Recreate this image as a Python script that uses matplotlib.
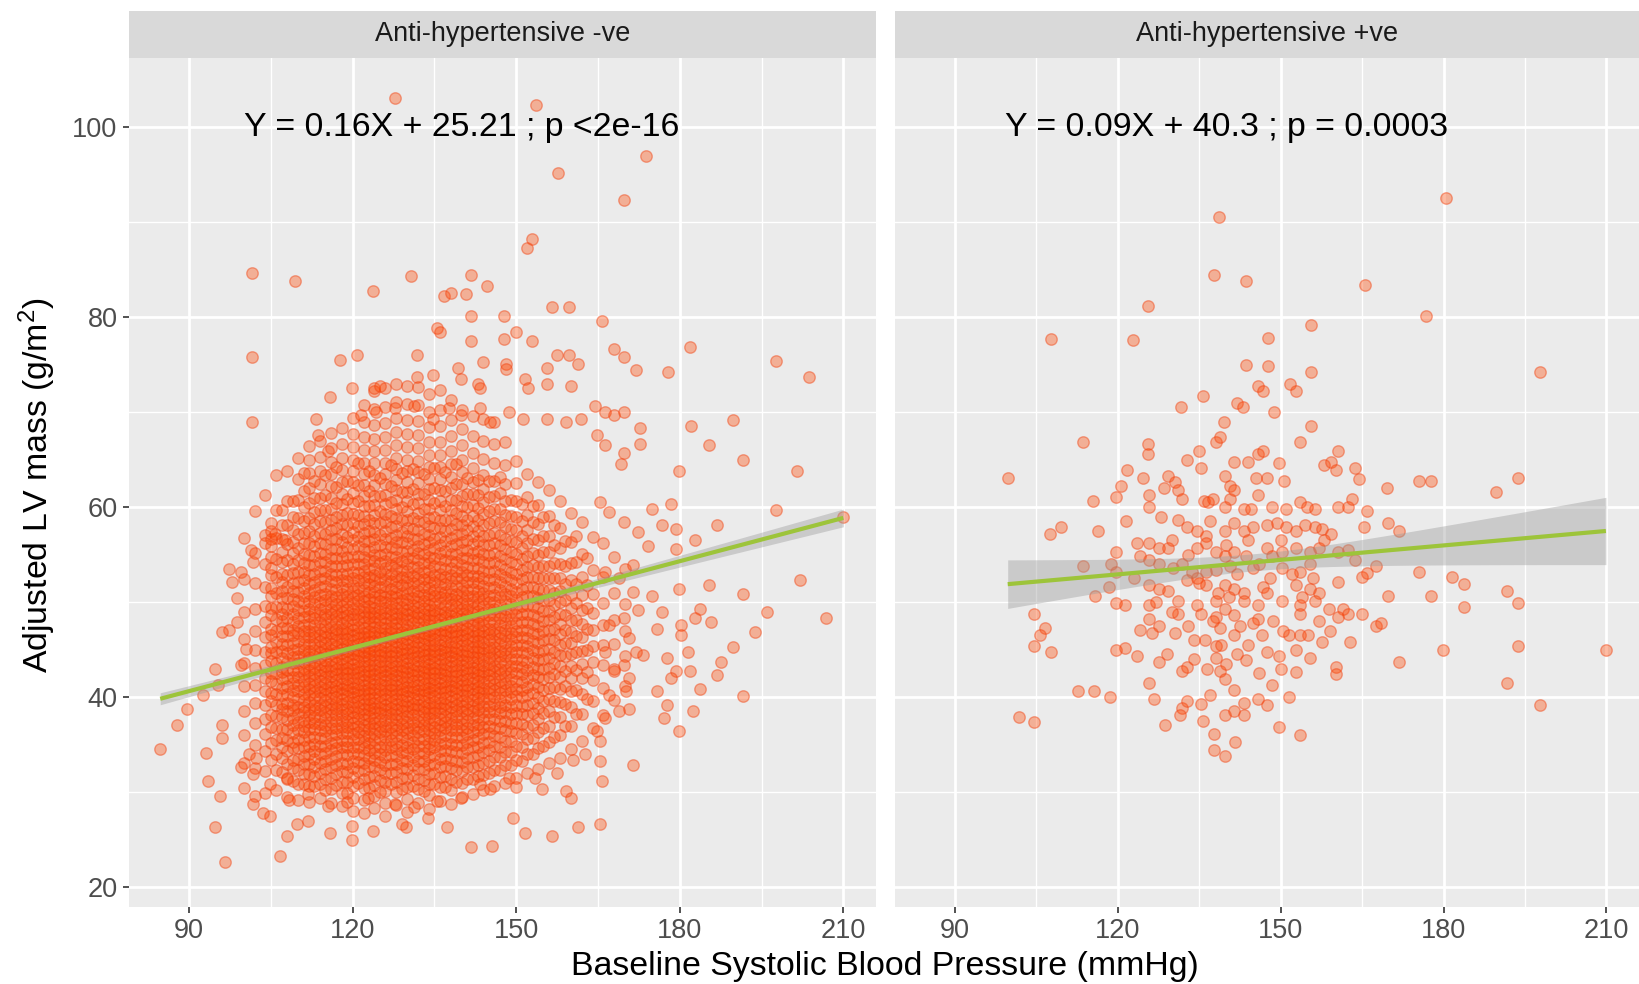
import matplotlib
matplotlib.use("Agg")
import matplotlib.pyplot as plt
import numpy as np

plt.rcParams['font.family'] = ['Liberation Sans', 'DejaVu Sans']
plt.rcParams['mathtext.fontset'] = 'custom'
plt.rcParams['mathtext.rm'] = 'Liberation Sans'
plt.rcParams['mathtext.it'] = 'Liberation Sans:italic'

# ---------------- data ----------------
panel_titles = ["Anti-hypertensive -ve", "Anti-hypertensive +ve"]
annotations = ["Y = 0.16X + 25.21 ; p <2e-16", "Y = 0.09X + 40.3 ; p = 0.0003"]
x_major = [90, 120, 150, 180, 210]
x_minor = [105, 135, 165, 195]
y_major = [20, 40, 60, 80, 100]
y_minor = [30, 50, 70, 90]

# left panel: dense columns (SBP value -> LV mass values)
left_dense_cols = {
    100: [30.4, 33.1, 36.0, 38.5, 41.2, 43.6, 46.1, 49.0, 52.4, 56.8],
    102: [29.6, 32.5, 35.0, 37.3, 39.4, 41.3, 43.1, 45.0, 47.0, 49.3, 52.0, 55.2, 59.6],
    104: [29.9, 32.2, 34.3, 36.1, 37.7, 39.2, 40.6, 42.0, 43.4, 44.8, 46.3, 47.9, 49.6, 51.6, 54.0, 57.1, 61.3],
    106: [30.2, 32.3, 34.0, 35.5, 36.8, 38.0, 39.2, 40.3, 41.4, 42.5, 43.6, 44.7, 45.8, 47.0, 48.2, 49.5, 51.0, 52.6, 54.5, 56.8, 59.7, 63.4],
    108: [29.5, 31.4, 33.0, 34.3, 35.5, 36.6, 37.6, 38.5, 39.4, 40.3, 41.2, 42.0, 42.9, 43.7, 44.6, 45.5, 46.4, 47.3, 48.3, 49.3, 50.4, 51.6, 52.9, 54.4, 56.1, 58.1, 60.6, 63.8],
    110: [29.2, 30.9, 32.3, 33.5, 34.6, 35.6, 36.5, 37.4, 38.2, 39.0, 39.8, 40.6, 41.3, 42.1, 42.8, 43.6, 44.3, 45.1, 45.9, 46.7, 47.5, 48.3, 49.2, 50.1, 51.1, 52.1, 53.2, 54.4, 55.7, 57.2, 58.9, 60.8, 63.0, 65.2],
    112: [29.0, 30.6, 31.9, 33.0, 34.0, 34.9, 35.8, 36.6, 37.4, 38.1, 38.8, 39.5, 40.2, 40.9, 41.5, 42.2, 42.9, 43.5, 44.2, 44.9, 45.6, 46.3, 47.0, 47.7, 48.5, 49.3, 50.1, 51.0, 51.9, 52.9, 53.9, 55.0, 56.2, 57.5, 58.9, 60.4, 62.0, 63.6, 65.0, 66.4],
    114: [29.4, 30.8, 32.0, 33.1, 34.0, 34.9, 35.7, 36.5, 37.2, 37.9, 38.6, 39.2, 39.9, 40.5, 41.1, 41.7, 42.3, 42.9, 43.5, 44.1, 44.7, 45.3, 45.9, 46.5, 47.2, 47.9, 48.6, 49.3, 50.0, 50.8, 51.6, 52.4, 53.3, 54.2, 55.2, 56.2, 57.3, 58.5, 59.7, 61.0, 62.4, 63.8, 65.3, 67.0],
    116: [28.8, 30.3, 31.5, 32.6, 33.5, 34.4, 35.2, 36.0, 36.7, 37.4, 38.1, 38.7, 39.3, 39.9, 40.5, 41.1, 41.6, 42.2, 42.8, 43.3, 43.9, 44.5, 45.0, 45.6, 46.2, 46.8, 47.4, 48.0, 48.7, 49.3, 50.0, 50.7, 51.4, 52.2, 53.0, 53.8, 54.7, 55.6, 56.6, 57.6, 58.7, 59.8, 61.0, 62.2, 63.5, 64.8, 66.2, 67.8],
    118: [28.5, 29.9, 31.1, 32.2, 33.1, 34.0, 34.8, 35.5, 36.2, 36.9, 37.5, 38.1, 38.7, 39.3, 39.8, 40.4, 40.9, 41.4, 42.0, 42.5, 43.0, 43.5, 44.0, 44.6, 45.1, 45.6, 46.1, 46.7, 47.2, 47.8, 48.4, 49.0, 49.6, 50.2, 50.9, 51.6, 52.3, 53.0, 53.8, 54.6, 55.4, 56.3, 57.2, 58.2, 59.2, 60.3, 61.4, 62.6, 63.9, 65.2, 66.6, 68.3],
    120: [28.0, 29.4, 30.6, 31.6, 32.5, 33.3, 34.1, 34.8, 35.5, 36.1, 36.7, 37.3, 37.9, 38.4, 39.0, 39.5, 40.0, 40.5, 41.0, 41.5, 42.0, 42.5, 43.0, 43.5, 44.0, 44.5, 45.0, 45.5, 46.0, 46.5, 47.1, 47.6, 48.2, 48.7, 49.3, 49.9, 50.5, 51.2, 51.8, 52.5, 53.2, 54.0, 54.8, 55.6, 56.5, 57.4, 58.3, 59.3, 60.4, 61.5, 62.6, 63.8, 65.0, 66.3, 67.7, 69.4],
    122: [27.8, 29.2, 30.4, 31.4, 32.3, 33.1, 33.9, 34.6, 35.3, 35.9, 36.5, 37.1, 37.7, 38.2, 38.8, 39.3, 39.8, 40.3, 40.8, 41.3, 41.8, 42.3, 42.8, 43.3, 43.8, 44.3, 44.8, 45.3, 45.8, 46.3, 46.8, 47.3, 47.9, 48.4, 49.0, 49.5, 50.1, 50.7, 51.3, 52.0, 52.6, 53.3, 54.0, 54.8, 55.6, 56.4, 57.3, 58.2, 59.1, 60.1, 61.2, 62.3, 63.5, 64.7, 66.0, 67.4, 69.0, 70.8],
    124: [28.3, 29.6, 30.7, 31.7, 32.6, 33.4, 34.1, 34.8, 35.5, 36.1, 36.7, 37.3, 37.8, 38.4, 38.9, 39.4, 39.9, 40.4, 40.9, 41.4, 41.9, 42.4, 42.9, 43.4, 43.9, 44.4, 44.9, 45.4, 45.9, 46.4, 46.9, 47.4, 47.9, 48.4, 48.9, 49.4, 50.0, 50.5, 51.1, 51.7, 52.3, 52.9, 53.6, 54.3, 55.0, 55.8, 56.6, 57.4, 58.3, 59.2, 60.2, 61.2, 62.3, 63.4, 64.6, 65.9, 67.2, 68.7, 70.3, 72.2],
    126: [27.5, 28.9, 30.1, 31.1, 32.0, 32.9, 33.7, 34.4, 35.1, 35.8, 36.4, 37.0, 37.6, 38.2, 38.7, 39.2, 39.8, 40.3, 40.8, 41.3, 41.8, 42.3, 42.8, 43.3, 43.8, 44.3, 44.8, 45.3, 45.8, 46.3, 46.8, 47.3, 47.8, 48.3, 48.9, 49.4, 50.0, 50.5, 51.1, 51.7, 52.3, 53.0, 53.6, 54.3, 55.1, 55.8, 56.6, 57.5, 58.4, 59.3, 60.3, 61.3, 62.4, 63.5, 64.7, 66.0, 67.4, 68.9, 70.5, 72.6],
    128: [28.6, 30.0, 31.1, 32.1, 33.0, 33.8, 34.5, 35.2, 35.9, 36.5, 37.1, 37.7, 38.2, 38.8, 39.3, 39.8, 40.3, 40.8, 41.3, 41.8, 42.3, 42.8, 43.3, 43.8, 44.3, 44.8, 45.3, 45.8, 46.3, 46.8, 47.3, 47.8, 48.3, 48.8, 49.4, 49.9, 50.5, 51.0, 51.6, 52.2, 52.8, 53.5, 54.1, 54.8, 55.6, 56.3, 57.1, 58.0, 58.9, 59.8, 60.8, 61.8, 62.9, 64.0, 65.2, 66.5, 67.9, 69.4, 71.1, 73.0],
    130: [27.9, 29.3, 30.5, 31.5, 32.4, 33.3, 34.1, 34.8, 35.5, 36.2, 36.8, 37.4, 38.0, 38.5, 39.1, 39.6, 40.1, 40.6, 41.1, 41.6, 42.1, 42.6, 43.1, 43.6, 44.1, 44.6, 45.1, 45.6, 46.1, 46.6, 47.1, 47.6, 48.2, 48.7, 49.2, 49.8, 50.3, 50.9, 51.5, 52.1, 52.7, 53.3, 54.0, 54.7, 55.4, 56.2, 57.0, 57.8, 58.7, 59.6, 60.6, 61.6, 62.7, 63.8, 65.0, 66.3, 67.7, 69.2, 70.9, 72.8],
    132: [28.9, 30.3, 31.4, 32.4, 33.3, 34.1, 34.9, 35.6, 36.3, 36.9, 37.5, 38.1, 38.7, 39.2, 39.8, 40.3, 40.8, 41.3, 41.8, 42.3, 42.8, 43.3, 43.8, 44.3, 44.8, 45.3, 45.8, 46.3, 46.8, 47.3, 47.9, 48.4, 48.9, 49.5, 50.0, 50.6, 51.2, 51.8, 52.4, 53.1, 53.7, 54.4, 55.2, 55.9, 56.7, 57.6, 58.5, 59.4, 60.4, 61.4, 62.5, 63.7, 64.9, 66.2, 67.6, 69.1, 70.8, 72.7],
    134: [28.2, 29.7, 30.9, 31.9, 32.8, 33.7, 34.5, 35.2, 35.9, 36.5, 37.2, 37.8, 38.3, 38.9, 39.4, 40.0, 40.5, 41.0, 41.5, 42.0, 42.5, 43.0, 43.5, 44.0, 44.5, 45.0, 45.5, 46.0, 46.5, 47.0, 47.6, 48.1, 48.6, 49.2, 49.7, 50.3, 50.9, 51.5, 52.1, 52.7, 53.4, 54.1, 54.8, 55.5, 56.3, 57.1, 58.0, 58.9, 59.8, 60.8, 61.9, 63.0, 64.2, 65.5, 66.9, 68.4, 70.0, 71.9],
    136: [29.1, 30.5, 31.6, 32.6, 33.5, 34.3, 35.1, 35.8, 36.5, 37.1, 37.7, 38.3, 38.9, 39.4, 39.9, 40.5, 41.0, 41.5, 42.0, 42.5, 43.0, 43.5, 44.0, 44.5, 45.0, 45.5, 46.0, 46.6, 47.1, 47.6, 48.2, 48.7, 49.3, 49.9, 50.5, 51.1, 51.7, 52.4, 53.0, 53.7, 54.5, 55.2, 56.0, 56.9, 57.8, 58.7, 59.7, 60.7, 61.8, 63.0, 64.2, 65.5, 66.9, 68.5, 70.2, 72.3],
    138: [28.7, 30.2, 31.4, 32.5, 33.4, 34.3, 35.1, 35.8, 36.5, 37.2, 37.8, 38.4, 39.0, 39.6, 40.1, 40.7, 41.2, 41.7, 42.2, 42.8, 43.3, 43.8, 44.3, 44.8, 45.3, 45.8, 46.4, 46.9, 47.4, 48.0, 48.5, 49.1, 49.7, 50.3, 50.9, 51.5, 52.2, 52.9, 53.6, 54.3, 55.1, 55.9, 56.8, 57.7, 58.7, 59.7, 60.8, 62.0, 63.2, 64.5, 65.9, 67.5, 69.2, 71.3],
    140: [29.5, 31.0, 32.2, 33.2, 34.1, 35.0, 35.8, 36.5, 37.2, 37.8, 38.5, 39.1, 39.6, 40.2, 40.7, 41.3, 41.8, 42.3, 42.9, 43.4, 43.9, 44.4, 44.9, 45.5, 46.0, 46.5, 47.1, 47.6, 48.2, 48.7, 49.3, 49.9, 50.5, 51.2, 51.8, 52.5, 53.2, 53.9, 54.7, 55.5, 56.3, 57.2, 58.1, 59.1, 60.1, 61.2, 62.4, 63.7, 65.0, 66.5, 68.2, 70.2],
    142: [29.8, 31.4, 32.6, 33.7, 34.7, 35.5, 36.3, 37.1, 37.8, 38.5, 39.1, 39.7, 40.3, 40.9, 41.5, 42.0, 42.6, 43.1, 43.7, 44.2, 44.8, 45.3, 45.9, 46.4, 47.0, 47.6, 48.2, 48.8, 49.4, 50.0, 50.7, 51.4, 52.1, 52.8, 53.6, 54.4, 55.2, 56.1, 57.0, 58.0, 59.1, 60.2, 61.4, 62.7, 64.1, 65.7, 67.5, 69.6],
    144: [30.2, 31.8, 33.1, 34.2, 35.2, 36.1, 36.9, 37.7, 38.4, 39.1, 39.8, 40.4, 41.0, 41.6, 42.2, 42.8, 43.4, 44.0, 44.6, 45.2, 45.8, 46.4, 47.0, 47.6, 48.2, 48.9, 49.6, 50.3, 51.0, 51.7, 52.5, 53.3, 54.2, 55.1, 56.0, 57.0, 58.1, 59.3, 60.5, 61.9, 63.4, 65.1, 67.0, 69.3],
    146: [30.6, 32.3, 33.7, 34.9, 35.9, 36.8, 37.7, 38.5, 39.3, 40.0, 40.7, 41.4, 42.0, 42.7, 43.3, 44.0, 44.6, 45.3, 45.9, 46.6, 47.2, 47.9, 48.6, 49.3, 50.0, 50.8, 51.6, 52.4, 53.3, 54.2, 55.2, 56.2, 57.3, 58.5, 59.8, 61.2, 62.8, 64.6, 66.6, 69.0],
    148: [31.0, 32.8, 34.2, 35.4, 36.5, 37.5, 38.4, 39.2, 40.0, 40.8, 41.5, 42.2, 42.9, 43.6, 44.3, 45.0, 45.7, 46.4, 47.1, 47.8, 48.5, 49.3, 50.1, 50.9, 51.7, 52.6, 53.5, 54.5, 55.6, 56.7, 57.9, 59.2, 60.7, 62.4, 64.4, 66.9],
    150: [31.5, 33.4, 34.9, 36.2, 37.3, 38.3, 39.2, 40.1, 40.9, 41.7, 42.5, 43.3, 44.0, 44.8, 45.5, 46.3, 47.0, 47.8, 48.6, 49.4, 50.2, 51.1, 52.0, 53.0, 54.0, 55.1, 56.3, 57.6, 59.0, 60.6, 62.5, 64.9],
    152: [32.0, 34.0, 35.6, 36.9, 38.1, 39.2, 40.2, 41.1, 42.0, 42.9, 43.7, 44.6, 45.4, 46.2, 47.1, 47.9, 48.8, 49.7, 50.6, 51.6, 52.6, 53.7, 54.9, 56.2, 57.6, 59.2, 61.1, 63.5],
    154: [32.4, 34.6, 36.3, 37.7, 38.9, 40.0, 41.1, 42.1, 43.0, 43.9, 44.8, 45.7, 46.6, 47.5, 48.4, 49.4, 50.4, 51.4, 52.5, 53.7, 55.0, 56.5, 58.2, 60.2, 62.7],
    156: [33.1, 35.3, 37.0, 38.5, 39.8, 41.0, 42.1, 43.1, 44.1, 45.1, 46.1, 47.1, 48.1, 49.1, 50.2, 51.3, 52.5, 53.8, 55.3, 57.0, 59.1, 61.8],
    158: [33.6, 36.0, 37.9, 39.5, 40.9, 42.1, 43.3, 44.4, 45.5, 46.6, 47.7, 48.8, 50.0, 51.2, 52.5, 54.0, 55.7, 57.8, 60.6],
    160: [34.5, 37.0, 39.0, 40.6, 42.0, 43.3, 44.5, 45.7, 46.9, 48.1, 49.4, 50.8, 52.3, 54.1, 56.3, 59.4],
    162: [35.4, 38.2, 40.3, 42.0, 43.5, 44.9, 46.3, 47.7, 49.2, 50.8, 52.7, 55.1, 58.4],
    164: [36.8, 39.6, 41.8, 43.7, 45.4, 47.1, 48.9, 50.9, 53.4, 56.9],
    166: [38.1, 41.0, 43.4, 45.5, 47.6, 49.9, 52.7, 56.2],
    168: [39.7, 43.0, 45.6, 48.1, 51.0, 54.8],
    170: [41.2, 44.3, 47.0, 49.8, 53.5],
}

# left panel: the odd-valued SBP readings inside the solid cloud
left_core_cols = {
    105: [33.4, 35.2, 36.9, 38.1, 39.6, 40.4, 41.7, 42.5, 43.8, 44.6, 45.3, 46.5, 47.2, 48.6, 49.4, 50.7, 51.5, 52.9, 53.6, 54.8, 55.9, 56.7, 57.5, 58.3],
    107: [32.1, 33.6, 34.8, 35.7, 36.6, 37.9, 38.7, 39.3, 40.2, 41.0, 41.9, 42.6, 43.2, 44.1, 44.9, 45.6, 46.4, 47.3, 48.0, 48.7, 49.5, 50.4, 51.2, 52.1, 53.0, 54.2, 55.3, 56.6, 58.1, 59.7],
    109: [31.2, 32.5, 33.4, 34.6, 35.3, 36.2, 37.1, 37.8, 38.6, 39.2, 40.0, 40.7, 41.5, 42.1, 42.9, 43.6, 44.2, 45.0, 45.7, 46.5, 47.1, 47.9, 48.8, 49.6, 50.3, 51.2, 52.0, 53.1, 54.0, 55.2, 56.3, 57.6, 59.0, 60.7],
    111: [30.8, 31.9, 33.0, 33.8, 34.7, 35.5, 36.3, 37.0, 37.6, 38.4, 39.0, 39.7, 40.3, 41.1, 41.7, 42.4, 43.0, 43.7, 44.3, 45.0, 45.6, 46.3, 47.0, 47.6, 48.4, 49.1, 49.9, 50.6, 51.5, 52.3, 53.2, 54.1, 55.1, 56.2, 57.3, 58.5, 60.0, 61.7],
    113: [30.6, 31.7, 32.6, 33.5, 34.3, 35.1, 35.8, 36.6, 37.3, 37.9, 38.6, 39.2, 39.9, 40.5, 41.2, 41.8, 42.4, 43.1, 43.7, 44.3, 45.0, 45.6, 46.3, 46.9, 47.6, 48.3, 49.0, 49.8, 50.5, 51.3, 52.1, 53.0, 53.9, 54.9, 55.9, 57.0, 58.2, 59.5, 61.0, 62.8],
    115: [30.2, 31.4, 32.4, 33.3, 34.1, 34.9, 35.7, 36.4, 37.1, 37.8, 38.4, 39.1, 39.7, 40.3, 40.9, 41.5, 42.1, 42.7, 43.3, 43.9, 44.5, 45.1, 45.7, 46.3, 46.9, 47.5, 48.2, 48.8, 49.5, 50.2, 50.9, 51.7, 52.5, 53.3, 54.2, 55.1, 56.1, 57.2, 58.4, 59.7, 61.3, 63.4],
    117: [30.7, 31.9, 32.9, 33.8, 34.6, 35.3, 36.1, 36.8, 37.5, 38.1, 38.8, 39.4, 40.0, 40.6, 41.2, 41.8, 42.4, 43.0, 43.6, 44.2, 44.8, 45.4, 46.0, 46.6, 47.2, 47.9, 48.5, 49.2, 49.8, 50.5, 51.3, 52.1, 52.9, 53.8, 54.7, 55.6, 56.7, 57.8, 59.0, 60.4, 62.1, 64.2],
    119: [29.9, 31.1, 32.1, 33.0, 33.9, 34.7, 35.4, 36.2, 36.9, 37.5, 38.2, 38.8, 39.5, 40.1, 40.7, 41.3, 41.9, 42.5, 43.1, 43.7, 44.3, 44.9, 45.5, 46.1, 46.7, 47.3, 48.0, 48.6, 49.3, 50.0, 50.7, 51.4, 52.2, 53.0, 53.9, 54.8, 55.8, 56.9, 58.1, 59.4, 60.9, 62.8],
    121: [31.0, 32.2, 33.2, 34.0, 34.8, 35.6, 36.3, 37.0, 37.7, 38.3, 39.0, 39.6, 40.2, 40.8, 41.4, 42.0, 42.6, 43.2, 43.8, 44.4, 45.0, 45.6, 46.2, 46.8, 47.4, 48.1, 48.7, 49.4, 50.1, 50.8, 51.5, 52.3, 53.1, 54.0, 54.9, 55.9, 56.9, 58.0, 59.2, 60.6, 62.3, 64.6],
    123: [30.4, 31.6, 32.7, 33.6, 34.4, 35.2, 35.9, 36.6, 37.3, 38.0, 38.6, 39.2, 39.8, 40.4, 41.0, 41.6, 42.2, 42.8, 43.4, 44.0, 44.6, 45.2, 45.8, 46.4, 47.0, 47.7, 48.3, 49.0, 49.6, 50.3, 51.1, 51.9, 52.7, 53.5, 54.4, 55.4, 56.4, 57.5, 58.7, 60.1, 61.7, 63.8],
    125: [30.0, 31.3, 32.3, 33.2, 34.0, 34.8, 35.6, 36.3, 37.0, 37.6, 38.3, 38.9, 39.5, 40.1, 40.8, 41.4, 42.0, 42.6, 43.2, 43.8, 44.4, 45.0, 45.6, 46.2, 46.8, 47.4, 48.1, 48.7, 49.4, 50.1, 50.8, 51.6, 52.4, 53.2, 54.1, 55.0, 56.0, 57.1, 58.3, 59.6, 61.2, 63.1],
    127: [30.9, 32.0, 33.0, 33.9, 34.7, 35.5, 36.2, 36.9, 37.6, 38.2, 38.9, 39.5, 40.1, 40.7, 41.3, 41.9, 42.5, 43.1, 43.7, 44.3, 44.9, 45.5, 46.1, 46.7, 47.3, 48.0, 48.6, 49.3, 49.9, 50.6, 51.4, 52.2, 53.0, 53.9, 54.8, 55.8, 56.8, 57.9, 59.1, 60.5, 62.2, 64.4],
    129: [30.3, 31.5, 32.5, 33.4, 34.2, 35.0, 35.8, 36.5, 37.2, 37.8, 38.5, 39.1, 39.7, 40.3, 40.9, 41.5, 42.1, 42.7, 43.3, 43.9, 44.5, 45.1, 45.7, 46.3, 46.9, 47.6, 48.2, 48.9, 49.5, 50.2, 51.0, 51.8, 52.6, 53.4, 54.3, 55.3, 56.3, 57.4, 58.6, 60.0, 61.6, 63.6],
    131: [30.6, 31.8, 32.8, 33.7, 34.5, 35.3, 36.0, 36.7, 37.4, 38.1, 38.7, 39.3, 39.9, 40.5, 41.1, 41.7, 42.3, 42.9, 43.5, 44.1, 44.7, 45.3, 45.9, 46.5, 47.1, 47.8, 48.4, 49.1, 49.7, 50.4, 51.2, 52.0, 52.8, 53.7, 54.6, 55.5, 56.6, 57.7, 58.9, 60.3, 61.9, 64.0],
    133: [30.1, 31.3, 32.4, 33.3, 34.1, 34.9, 35.6, 36.4, 37.1, 37.7, 38.4, 39.0, 39.6, 40.2, 40.8, 41.4, 42.0, 42.6, 43.2, 43.8, 44.4, 45.0, 45.6, 46.2, 46.8, 47.4, 48.1, 48.7, 49.4, 50.1, 50.8, 51.6, 52.4, 53.2, 54.1, 55.1, 56.1, 57.2, 58.4, 59.8, 61.4, 63.5],
    135: [30.8, 32.0, 33.0, 33.9, 34.7, 35.5, 36.2, 36.9, 37.6, 38.3, 38.9, 39.5, 40.1, 40.7, 41.3, 41.9, 42.5, 43.1, 43.7, 44.3, 44.9, 45.5, 46.1, 46.7, 47.3, 48.0, 48.6, 49.2, 49.9, 50.6, 51.3, 52.1, 52.9, 53.8, 54.7, 55.7, 56.7, 57.8, 59.0, 60.4, 62.0, 64.1],
    137: [30.5, 31.7, 32.7, 33.6, 34.4, 35.2, 36.0, 36.7, 37.4, 38.0, 38.7, 39.3, 39.9, 40.5, 41.1, 41.7, 42.3, 42.9, 43.5, 44.1, 44.7, 45.3, 45.9, 46.5, 47.1, 47.7, 48.4, 49.0, 49.7, 50.4, 51.1, 51.9, 52.7, 53.5, 54.4, 55.4, 56.4, 57.5, 58.7, 60.1, 61.7, 63.7],
    139: [31.1, 32.3, 33.3, 34.2, 35.0, 35.8, 36.5, 37.2, 37.9, 38.5, 39.2, 39.8, 40.4, 41.0, 41.6, 42.2, 42.8, 43.4, 44.0, 44.6, 45.2, 45.8, 46.4, 47.0, 47.6, 48.3, 48.9, 49.6, 50.2, 50.9, 51.7, 52.5, 53.3, 54.2, 55.1, 56.1, 57.1, 58.2, 59.4, 60.8, 62.4, 64.5],
    141: [31.4, 32.6, 33.6, 34.5, 35.3, 36.1, 36.8, 37.5, 38.2, 38.8, 39.5, 40.1, 40.7, 41.3, 41.9, 42.5, 43.1, 43.7, 44.3, 44.9, 45.5, 46.1, 46.7, 47.3, 48.0, 48.6, 49.3, 49.9, 50.6, 51.3, 52.1, 52.9, 53.7, 54.6, 55.5, 56.5, 57.6, 58.7, 60.0, 61.4, 63.1],
    143: [31.7, 32.9, 33.9, 34.8, 35.7, 36.5, 37.2, 37.9, 38.6, 39.3, 39.9, 40.5, 41.1, 41.7, 42.3, 42.9, 43.5, 44.1, 44.7, 45.3, 45.9, 46.5, 47.1, 47.8, 48.4, 49.1, 49.8, 50.5, 51.2, 52.0, 52.8, 53.6, 54.5, 55.4, 56.4, 57.5, 58.6, 59.9, 61.3, 62.9],
    145: [32.0, 33.3, 34.4, 35.3, 36.2, 37.0, 37.7, 38.4, 39.1, 39.8, 40.4, 41.0, 41.7, 42.3, 42.9, 43.5, 44.1, 44.7, 45.3, 46.0, 46.6, 47.2, 47.9, 48.6, 49.3, 50.0, 50.7, 51.5, 52.3, 53.2, 54.1, 55.0, 56.0, 57.1, 58.3, 59.6, 61.1, 62.8],
    147: [32.3, 33.7, 34.8, 35.8, 36.7, 37.5, 38.3, 39.0, 39.7, 40.4, 41.1, 41.7, 42.4, 43.0, 43.7, 44.3, 44.9, 45.6, 46.2, 46.9, 47.6, 48.3, 49.0, 49.7, 50.5, 51.3, 52.1, 53.0, 53.9, 54.9, 56.0, 57.1, 58.4, 59.8, 61.5, 63.2],
    149: [32.8, 34.2, 35.4, 36.4, 37.3, 38.2, 39.0, 39.8, 40.5, 41.2, 41.9, 42.6, 43.3, 44.0, 44.7, 45.4, 46.1, 46.8, 47.5, 48.2, 49.0, 49.8, 50.6, 51.4, 52.3, 53.2, 54.2, 55.3, 56.4, 57.7, 59.1, 60.8],
    151: [33.3, 34.8, 36.1, 37.2, 38.2, 39.1, 40.0, 40.8, 41.6, 42.4, 43.2, 43.9, 44.7, 45.5, 46.3, 47.1, 47.9, 48.7, 49.6, 50.5, 51.4, 52.4, 53.4, 54.5, 55.7, 57.0, 58.5, 60.3],
    153: [34.0, 35.7, 37.1, 38.3, 39.4, 40.4, 41.4, 42.3, 43.2, 44.1, 45.0, 45.9, 46.8, 47.7, 48.6, 49.6, 50.6, 51.6, 52.7, 53.9, 55.2, 56.7, 58.4, 60.1],
    155: [34.9, 36.8, 38.3, 39.6, 40.8, 41.9, 43.0, 44.0, 45.0, 46.0, 47.0, 48.0, 49.1, 50.2, 51.3, 52.5, 53.8, 55.3, 57.0, 59.0],
    157: [35.8, 37.9, 39.6, 41.1, 42.4, 43.6, 44.8, 46.0, 47.2, 48.4, 49.7, 51.0, 52.5, 54.1, 56.0, 58.1],
    159: [37.0, 39.3, 41.2, 42.8, 44.3, 45.7, 47.1, 48.6, 50.2, 51.9, 53.8, 56.4],
    161: [38.2, 40.8, 42.9, 44.7, 46.4, 48.1, 49.9, 51.9, 54.2, 57.0],
    163: [39.8, 42.6, 45.0, 47.2, 49.4, 51.8, 54.7],
}

# left panel: scattered points outside the dense cloud
left_sparse_x = [127.8, 153.7, 173.8, 157.7, 169.7, 152.9, 152.0, 101.6, 109.5, 130.7, 141.7, 123.7, 144.7, 136.8, 138.1, 140.8,
                 156.5, 159.6, 141.7, 147.8, 165.7, 135.5, 136.0, 141.7, 147.8, 150.0, 152.9, 181.8, 101.6, 117.6, 120.8, 131.8,
                 157.4, 159.6, 167.9, 169.7, 171.9, 177.8, 197.7, 203.8, 139.3, 143.9, 148.2, 148.2, 155.7, 161.4, 131.8, 134.7,
                 119.8, 124.0, 125.0, 115.8, 139.9, 143.0, 143.4, 151.7, 155.7, 160.0, 152.2, 101.6, 182.0, 189.8, 185.4, 191.6,
                 179.8, 201.6, 172.7, 172.7, 113.2, 113.6, 115.4, 111.0, 121.5, 124.2, 127.7, 131.2, 134.7, 137.7, 139.9, 143.4,
                 145.2, 148.7, 151.3, 155.7, 159.2, 161.8, 164.4, 166.2, 167.9, 169.7, 164.9, 166.2, 169.7, 169.3,
                 197.7, 210.0, 202.1, 206.9, 191.6, 196.0, 193.8, 191.6, 189.8, 187.6, 186.8, 185.4, 185.8, 183.7, 182.8, 183.7,
                 179.8, 180.2, 180.2, 181.5, 179.3, 181.9, 182.4, 179.8, 177.1, 177.6, 186.8, 182.8, 178.4, 179.3, 179.3, 175.0,
                 176.7, 174.1, 171.4, 175.0, 176.7, 175.8, 173.2, 177.6, 178.4, 175.8, 171.4, 165.3, 161.4, 156.5, 151.7, 149.5,
                 145.6, 141.7, 137.3, 133.8, 129.8, 129.0, 123.7, 119.8, 119.8, 115.8, 111.9, 109.7, 108.0, 106.6, 104.9, 103.6,
                 101.8, 94.8, 96.6, 93.5, 95.7, 93.1, 84.7, 87.8, 89.6, 92.6, 95.3, 99.6, 94.8, 96.1, 97.4, 98.8,
                 97.9, 99.6, 101.8, 97.4, 101.4, 104.0, 107.5, 105.8, 98.8, 100.5, 96.1, 96.1, 100.9, 102.3, 99.6, 101.8,
                 104.9, 108.0, 108.4, 111.9, 115.4, 118.9, 122.8, 127.7, 131.2, 135.5, 139.9, 143.4, 145.2, 148.7, 150.0, 153.5,
                 154.8, 159.2, 160.1, 157.4, 160.5, 162.7, 165.3, 165.7, 164.9, 165.3, 167.1, 170.1, 170.6, 166.2, 168.8, 169.7,
                 170.6, 168.0, 170.6, 171.9, 166.2, 172.3, 169.7, 167.1, 171.4, 168.8, 166.2, 172.3, 169.7, 167.1, 165.3]
left_sparse_y = [103.1, 102.4, 97.0, 95.2, 92.3, 88.2, 87.3, 84.7, 83.8, 84.3, 84.5, 82.8, 83.3, 82.2, 82.5, 82.4,
                 81.1, 81.1, 80.1, 80.1, 79.6, 78.9, 78.4, 77.5, 77.7, 78.4, 77.5, 76.9, 75.8, 75.5, 76.0, 76.0,
                 76.0, 76.0, 76.7, 75.8, 74.4, 74.2, 75.4, 73.7, 74.7, 75.3, 75.1, 74.6, 74.7, 75.1, 73.7, 73.9,
                 72.6, 72.6, 72.8, 71.6, 73.5, 73.0, 72.5, 73.5, 73.0, 72.8, 72.5, 69.0, 68.6, 69.2, 66.5, 65.0,
                 63.8, 63.8, 68.3, 66.7, 69.3, 67.6, 65.9, 63.6, 69.7, 70.0, 70.4, 70.7, 69.3, 70.4, 69.7, 70.4,
                 69.0, 70.0, 69.3, 69.3, 69.0, 69.3, 70.7, 70.0, 69.7, 70.0, 67.6, 66.5, 65.7, 64.5,
                 59.7, 59.0, 52.3, 48.3, 50.9, 49.0, 46.9, 40.1, 45.3, 43.7, 42.3, 51.8, 47.9, 49.3, 48.3, 40.9,
                 51.4, 47.6, 46.5, 44.8, 42.7, 42.7, 38.5, 36.4, 37.8, 39.2, 58.1, 56.5, 60.3, 57.7, 55.6, 59.8,
                 58.1, 55.9, 51.1, 50.7, 49.0, 47.2, 44.4, 44.1, 42.0, 40.6, 32.9, 26.6, 26.3, 25.4, 25.7, 27.3,
                 24.3, 24.2, 26.3, 27.3, 26.3, 26.6, 25.9, 26.4, 25.0, 25.7, 27.0, 26.6, 25.4, 23.3, 27.5, 27.8,
                 28.7, 26.3, 22.6, 31.2, 29.6, 34.1, 34.5, 37.1, 38.8, 40.2, 41.3, 43.4, 43.0, 46.9, 47.1, 50.4,
                 52.1, 53.2, 54.2, 53.5, 55.5, 56.2, 56.5, 57.2, 47.9, 45.1, 37.1, 35.7, 34.0, 33.6, 32.6, 31.9,
                 30.8, 31.5, 29.2, 29.8, 28.5, 29.0, 29.4, 28.7, 28.4, 29.1, 29.4, 30.8, 30.3, 31.5, 30.5, 31.5,
                 30.3, 30.1, 29.4, 32.0, 33.4, 34.0, 33.3, 31.2, 36.4, 35.4, 40.2, 40.6, 38.8, 37.8, 38.5, 43.4,
                 42.0, 42.7, 46.2, 44.8, 44.8, 49.2, 48.3, 47.6, 53.9, 52.5, 53.2, 57.4, 58.4, 59.5, 60.5]

# right panel points
right_x = [180.5, 138.6, 137.7, 143.6, 165.6, 125.6, 176.7, 107.7, 122.7, 147.6, 155.6, 143.6, 147.6, 155.6, 197.8, 145.8,
           146.7, 151.7, 152.8, 135.6, 131.6, 142.0, 143.0, 148.7, 139.5, 155.6, 113.6, 125.6, 125.6, 138.0, 138.8, 153.6,
           160.6, 145.8, 146.7, 134.9, 132.7, 141.4, 144.0, 149.7, 158.0, 159.3, 160.2, 163.7, 164.5, 99.7, 121.6, 124.6,
           129.2, 130.5, 135.3, 139.7, 140.6, 145.4, 147.5, 150.6, 169.5, 175.4, 177.6, 193.7, 189.6, 115.5, 119.6, 120.5,
           125.7, 125.7, 131.0, 131.8, 135.8, 136.6, 137.5, 139.7, 140.6, 141.4, 143.2, 144.5, 145.8, 148.4, 151.0, 153.6,
           154.9, 156.3, 160.6, 162.4, 163.2, 165.8, 165.4, 131.0, 132.7, 134.5, 136.2, 139.7, 141.4, 143.2, 144.9, 147.5,
           149.3, 151.0, 152.8, 154.5, 156.3, 157.6, 159.3, 107.4, 109.6, 116.4, 169.8, 171.8, 123.6, 125.7, 127.5, 129.2,
           119.6, 124.0, 125.7, 127.5, 134.5, 136.2, 138.0, 139.7, 141.4, 143.6, 147.5, 148.4, 150.2, 152.8, 155.4, 157.1,
           160.6, 162.4, 163.7, 113.5, 118.8, 119.6, 130.1, 131.8, 133.6, 136.2, 138.0, 140.6, 144.9, 150.2, 153.6, 155.4,
           165.0, 165.8, 167.6, 175.4, 181.5, 183.7, 118.3, 125.7, 127.5, 129.2, 132.7, 134.5, 136.2, 139.7, 141.4, 143.2,
           146.7, 147.5, 152.8, 155.4, 157.1, 160.6, 191.6, 193.7, 115.7, 119.6, 121.4, 125.7, 131.0, 134.5, 138.0, 139.7,
           143.2, 145.8, 150.2, 153.6, 156.3, 158.9, 161.5, 162.4, 169.8, 177.6, 183.7, 104.6, 125.7, 127.5, 131.0, 135.3,
           138.0, 141.4, 145.8, 153.6, 157.1, 160.6, 165.0, 106.6, 105.7, 124.0, 126.2, 130.5, 134.0, 138.8, 141.4, 144.9,
           151.5, 153.6, 157.6, 162.8, 167.6, 168.5, 104.6, 107.7, 119.6, 121.4, 123.6, 127.5, 131.8, 132.7, 138.0, 138.0,
           138.8, 143.6, 147.5, 149.7, 152.8, 155.4, 160.2, 160.2, 171.8, 179.8, 193.7, 209.9, 191.6, 125.7, 126.6, 131.8,
           132.8, 135.3, 137.0, 139.7, 141.4, 143.2, 145.8, 147.5, 148.4, 151.5, 152.8, 112.6, 115.6, 118.5, 101.8, 104.6,
           197.8, 128.6, 131.4, 135.6, 139.7, 141.4, 143.2, 149.7, 153.6, 137.7, 141.6, 137.7, 139.7,
           128.0, 130.0, 133.0, 135.0, 137.0, 138.5, 140.0, 142.0, 144.0, 146.0, 148.0, 150.0, 152.0, 154.0, 156.0, 158.0,
           127.0, 130.0, 133.0, 136.0, 137.5, 139.0, 140.5, 142.5, 144.0, 146.5, 148.5, 150.5, 155.0, 159.0, 129.0, 134.0,
           136.5, 140.0, 142.0, 146.0, 150.0, 123.0, 121.5, 128.5]
right_y = [92.6, 90.6, 84.5, 83.8, 83.4, 81.2, 80.1, 77.7, 77.6, 77.8, 79.2, 75.0, 74.9, 74.2, 74.2, 72.8,
           72.2, 73.0, 72.2, 71.7, 70.6, 71.0, 70.6, 70.0, 69.0, 68.5, 66.9, 66.7, 65.6, 66.9, 67.4, 66.9,
           65.9, 65.6, 65.9, 65.9, 65.0, 64.8, 64.8, 64.6, 64.4, 64.8, 63.9, 64.1, 63.0, 63.1, 63.9, 63.1,
           63.3, 62.6, 64.1, 63.3, 62.2, 63.1, 63.1, 62.8, 62.0, 62.8, 62.8, 63.1, 61.6, 60.6, 61.1, 62.2,
           61.3, 60.0, 61.8, 60.9, 60.7, 60.5, 60.9, 60.0, 60.9, 61.8, 59.8, 59.8, 61.3, 60.0, 59.8, 60.5,
           60.0, 59.8, 60.0, 60.0, 60.9, 59.6, 57.9, 58.7, 57.9, 57.5, 57.0, 57.5, 58.3, 57.5, 57.9, 58.1,
           58.3, 57.9, 57.5, 58.1, 57.9, 57.7, 57.2, 57.2, 57.9, 57.5, 58.3, 57.5, 56.2, 56.2, 55.7, 55.7,
           55.3, 54.9, 54.4, 54.0, 55.7, 56.2, 55.3, 54.9, 55.3, 54.9, 55.7, 54.9, 55.3, 55.7, 55.3, 55.7,
           55.3, 55.5, 54.4, 53.8, 54.0, 53.2, 53.6, 54.0, 53.2, 53.2, 53.4, 53.8, 53.6, 53.6, 53.2, 54.0,
           52.7, 53.1, 53.8, 53.2, 52.7, 51.9, 51.6, 51.8, 51.4, 51.2, 52.3, 52.5, 51.8, 51.8, 51.4, 51.0,
           51.6, 51.0, 51.8, 51.4, 51.0, 52.1, 51.2, 49.9, 50.6, 49.9, 49.7, 49.7, 50.1, 49.7, 50.1, 49.3,
           50.1, 49.7, 50.1, 49.7, 50.1, 49.3, 49.3, 48.8, 50.6, 50.6, 49.5, 48.8, 48.2, 47.5, 48.8, 48.8,
           48.4, 48.6, 48.2, 48.8, 48.0, 48.4, 48.8, 47.3, 46.5, 47.1, 46.7, 46.7, 46.0, 47.3, 46.5, 47.8,
           46.5, 46.5, 45.8, 45.8, 47.5, 47.8, 45.4, 44.7, 45.0, 45.2, 44.3, 43.7, 42.8, 43.2, 45.4, 44.1,
           42.8, 43.9, 44.7, 44.3, 45.0, 44.1, 43.2, 42.4, 43.7, 45.0, 45.4, 45.0, 41.5, 41.5, 39.8, 38.9,
           39.6, 39.3, 40.2, 41.9, 40.7, 39.4, 39.8, 39.2, 41.3, 40.0, 42.6, 40.6, 40.6, 40.0, 37.9, 37.4,
           39.2, 37.1, 38.1, 37.5, 38.1, 38.5, 38.1, 36.9, 36.0, 36.1, 35.3, 34.4, 33.8,
           59.0, 56.5, 55.0, 52.0, 58.5, 51.0, 56.0, 53.0, 56.5, 54.0, 52.5, 56.5, 53.0, 50.5, 52.5, 56.5,
           50.0, 49.0, 47.5, 46.0, 48.0, 45.5, 50.5, 47.5, 45.5, 46.5, 48.0, 47.0, 46.5, 47.0, 44.5, 44.0,
           43.0, 43.5, 44.5, 42.5, 43.0, 52.5, 58.5, 62.0]

# fitted lines and confidence-band widths
fit_slope = [0.152, 0.0508]
fit_intercept = [26.95, 46.83]
band_center_x = [133.0, 145.0]
band_half_center = [0.30, 0.90]
band_growth = [0.0115, 0.0528]

# ---------------- build arrays ----------------
lx, ly = [], []
for cols in (left_dense_cols, left_core_cols):
    for k, vals in cols.items():
        lx.extend([float(k)] * len(vals))
        ly.extend(vals)
lx += list(left_sparse_x)
ly += list(left_sparse_y)
panels = [(np.array(lx), np.array(ly)), (np.array(right_x), np.array(right_y))]

# ---------------- figure ----------------
W, H = 1639, 984
fig = plt.figure(figsize=(W / 100, H / 100), dpi=100)
fig.patch.set_facecolor('white')

ax_bottom = 1 - 907 / H
ax_height = (907 - 57.5) / H
ax_specs = [(128.6 / W, (876 - 128.6) / W), (894.8 / W, (1639 - 894.8) / W)]
strip_bottom = 1 - 57.5 / H
strip_height = 47 / H

XLIM = (78.9, 216.0)
YLIM = (17.9, 107.35)
face_rgba = (1.0, 0.27, 0.0, 0.36)
edge_rgba = (0.95, 0.25, 0.05, 0.45)
line_color = '#9DC43A'

for i, (x0, w) in enumerate(ax_specs):
    ax = fig.add_axes([x0, ax_bottom, w, ax_height])
    ax.set_facecolor('#EBEBEB')
    for s in ax.spines.values():
        s.set_visible(False)
    ax.set_xlim(*XLIM)
    ax.set_ylim(*YLIM)
    ax.set_xticks(x_major)
    ax.set_xticks(x_minor, minor=True)
    ax.set_yticks(y_major)
    ax.set_yticks(y_minor, minor=True)
    ax.grid(which='major', color='white', linewidth=2.0, zorder=0)
    ax.grid(which='minor', color='white', linewidth=1.0, zorder=0)
    ax.set_axisbelow(True)
    ax.tick_params(which='major', length=4.5, width=1.2, color='#333333',
                   labelsize=19.5, labelcolor='#4D4D4D', pad=3.5)
    ax.tick_params(which='minor', length=0)
    if i == 1:
        ax.tick_params(axis='y', which='both', left=False, labelleft=False)

    px, py = panels[i]
    ax.scatter(px, py, s=68, facecolors=[face_rgba], edgecolors=[edge_rgba],
               linewidths=1.0, zorder=2)

    xs = np.linspace(px.min(), px.max(), 200)
    fit = fit_intercept[i] + fit_slope[i] * xs
    half = np.sqrt(band_half_center[i] ** 2 + (band_growth[i] * (xs - band_center_x[i])) ** 2)
    ax.fill_between(xs, fit - half, fit + half, color='#999999', alpha=0.4,
                    linewidth=0, zorder=3)
    ax.plot(xs, fit, color=line_color, linewidth=3.0, zorder=4, solid_capstyle='butt')

    ax.text(140, 100, annotations[i], ha='center', va='center', fontsize=24.4,
            color='black', zorder=5)

    sax = fig.add_axes([x0, strip_bottom, w, strip_height])
    sax.set_facecolor('#D9D9D9')
    for s in sax.spines.values():
        s.set_visible(False)
    sax.set_xticks([])
    sax.set_yticks([])
    sax.text(0.5, 0.5, panel_titles[i], ha='center', va='center',
             fontsize=19.5, color='#1A1A1A', transform=sax.transAxes)

fig.text(885 / W, 1 - 967 / H, 'Baseline Systolic Blood Pressure (mmHg)',
         ha='center', va='center', fontsize=24.4, color='black')
fig.text(37 / W, 1 - 485 / H, 'Adjusted LV mass (g/m$^2$)', rotation=90,
         ha='center', va='center', fontsize=24.4, color='black')

fig.savefig('out.png', dpi=100, facecolor='white')
